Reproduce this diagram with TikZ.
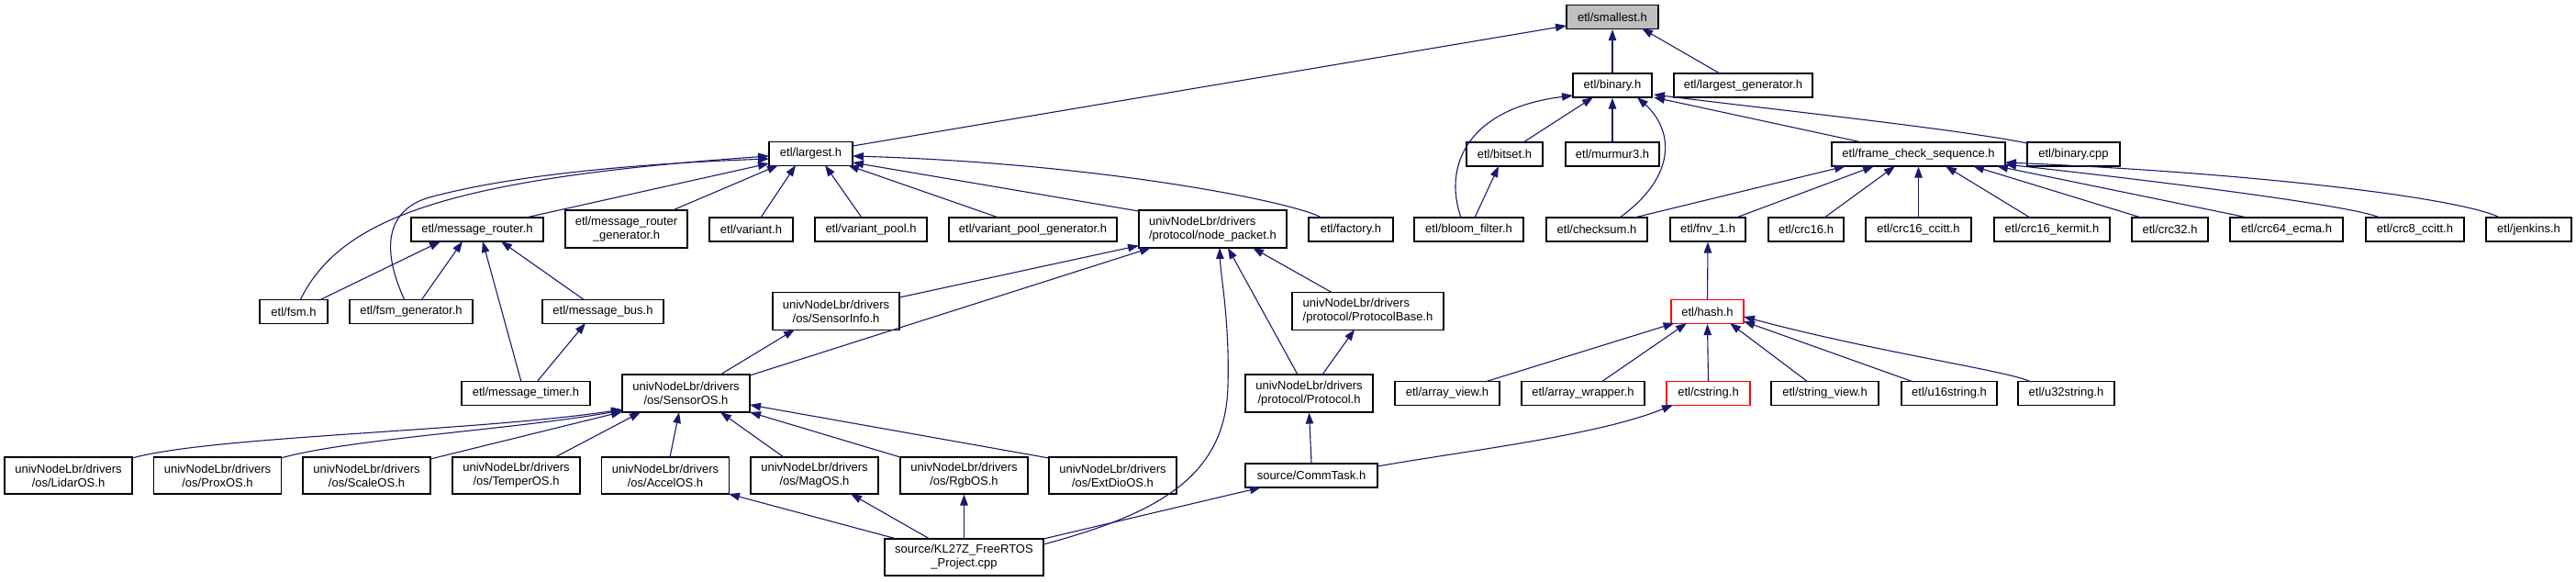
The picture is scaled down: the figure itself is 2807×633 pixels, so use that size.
\documentclass[tikz,border=0pt]{standalone}
\usepackage{fontspec}
\setmainfont{Liberation Sans}
\usetikzlibrary{arrows.meta}
\definecolor{edgeblue}{HTML}{191970}
\definecolor{shadegrey}{HTML}{BFBFBF}
\begin{document}
\begin{tikzpicture}[x=1pt,y=-1pt,
  fbox/.style={draw=black, line width=1.2pt, fill=white, inner sep=0pt, font=\fontsize{13}{15}\selectfont, align=center, minimum height=26pt},
  tall/.style={minimum height=41pt},
  redbox/.style={draw=red},
  dep/.style={draw=edgeblue, line width=1.1pt, -{Triangle[length=12pt,width=8.5pt]}},
]
\useasboundingbox (0,0) rectangle (2807,633);
% row 0-2
\node[fbox, fill=shadegrey, minimum width=100pt] (smallest) at (1757,18.5) {etl/smallest.h};
\node[fbox, minimum width=86pt] (binary) at (1757,93) {etl/binary.h};
\node[fbox, minimum width=151pt] (lgen) at (1899.5,93) {etl/largest\_generator.h};
\node[fbox, minimum width=91pt] (largest) at (883.5,167.5) {etl/largest.h};
\node[fbox, minimum width=83pt] (bitset) at (1639.5,168) {etl/bitset.h};
\node[fbox, minimum width=102pt] (murmur) at (1757,168) {etl/murmur3.h};
\node[fbox, minimum width=189pt] (fcs) at (2090.5,168) {etl/frame\_check\_sequence.h};
\node[fbox, minimum width=101pt] (bincpp) at (2259.5,168) {etl/binary.cpp};
% row 3
\node[fbox, minimum width=144pt] (mrouter) at (520,250) {etl/message\_router.h};
\node[fbox, tall, minimum width=133pt] (mrgen) at (682.5,249.5) {etl/message\_router\\\_generator.h};
\node[fbox, minimum width=91pt] (variant) at (818.5,250) {etl/variant.h};
\node[fbox, minimum width=122pt] (vpool) at (949,250) {etl/variant\_pool.h};
\node[fbox, minimum width=183pt] (vpgen) at (1125.5,250) {etl/variant\_pool\_generator.h};
\node[fbox, tall, align=left, minimum width=161pt] (npacket) at (1321.5,249.5) {univNodeLbr/drivers\\/protocol/node\_packet.h};
\node[fbox, minimum width=92pt] (factory) at (1472,250) {etl/factory.h};
\node[fbox, minimum width=119pt] (bloom) at (1600.5,250) {etl/bloom\_filter.h};
\node[fbox, minimum width=110pt] (checksum) at (1740,250) {etl/checksum.h};
\node[fbox, minimum width=82pt] (fnv) at (1861,250) {etl/fnv\_1.h};
\node[fbox, minimum width=82pt] (crc16) at (1968,250) {etl/crc16.h};
\node[fbox, minimum width=115pt] (crcc) at (2090.5,250) {etl/crc16\_ccitt.h};
\node[fbox, minimum width=126pt] (crck) at (2236,250) {etl/crc16\_kermit.h};
\node[fbox, minimum width=83pt] (crc32) at (2364.5,250) {etl/crc32.h};
\node[fbox, minimum width=123pt] (crc64) at (2491.5,250) {etl/crc64\_ecma.h};
\node[fbox, minimum width=107pt] (crc8) at (2631.5,250) {etl/crc8\_ccitt.h};
\node[fbox, minimum width=93pt] (jenkins) at (2755.5,250) {etl/jenkins.h};
% row 4
\node[fbox, minimum width=74pt] (fsm) at (320,339.5) {etl/fsm.h};
\node[fbox, minimum width=134pt] (fsmgen) at (448,339.5) {etl/fsm\_generator.h};
\node[fbox, minimum width=132pt] (mbus) at (657,339.5) {etl/message\_bus.h};
\node[fbox, tall, minimum width=138pt] (sinfo) at (911,339) {univNodeLbr/drivers\\/os/SensorInfo.h};
\node[fbox, tall, align=left, minimum width=165pt] (pbase) at (1490.5,339) {univNodeLbr/drivers\\/protocol/ProtocolBase.h};
\node[fbox, redbox, minimum width=79pt] (hash) at (1860.5,339.5) {etl/hash.h};
% row 5
\node[fbox, minimum width=140pt] (mtimer) at (573,428.5) {etl/message\_timer.h};
\node[fbox, tall, minimum width=139pt] (sensoros) at (747.5,428.5) {univNodeLbr/drivers\\/os/SensorOS.h};
\node[fbox, tall, minimum width=139pt] (protocol) at (1426.5,428.5) {univNodeLbr/drivers\\/protocol/Protocol.h};
\node[fbox, minimum width=114pt] (aview) at (1577,428.5) {etl/array\_view.h};
\node[fbox, minimum width=134pt] (awrap) at (1725,428.5) {etl/array\_wrapper.h};
\node[fbox, redbox, minimum width=91pt] (cstring) at (1861.5,428.5) {etl/cstring.h};
\node[fbox, minimum width=117pt] (sview) at (1988.5,428.5) {etl/string\_view.h};
\node[fbox, minimum width=104pt] (u16) at (2124,428.5) {etl/u16string.h};
\node[fbox, minimum width=105pt] (u32) at (2251.5,428.5) {etl/u32string.h};
% row 6
\node[fbox, tall, minimum height=40pt, minimum width=139pt] (lidar) at (74.5,518) {univNodeLbr/drivers\\/os/LidarOS.h};
\node[fbox, tall, minimum height=40pt, minimum width=139pt] (prox) at (237,518) {univNodeLbr/drivers\\/os/ProxOS.h};
\node[fbox, tall, minimum height=40pt, minimum width=139pt] (scale) at (399.5,518) {univNodeLbr/drivers\\/os/ScaleOS.h};
\node[fbox, tall, minimum height=40pt, minimum width=139pt] (temper) at (562.5,518) {univNodeLbr/drivers\\/os/TemperOS.h};
\node[fbox, tall, minimum height=40pt, minimum width=139pt] (accel) at (725,518) {univNodeLbr/drivers\\/os/AccelOS.h};
\node[fbox, tall, minimum height=40pt, minimum width=139pt] (mag) at (887.5,518) {univNodeLbr/drivers\\/os/MagOS.h};
\node[fbox, tall, minimum height=40pt, minimum width=139pt] (rgb) at (1050.5,518) {univNodeLbr/drivers\\/os/RgbOS.h};
\node[fbox, tall, minimum height=40pt, minimum width=139pt] (extdio) at (1212.5,518) {univNodeLbr/drivers\\/os/ExtDioOS.h};
\node[fbox, minimum width=144pt] (commtask) at (1429,518) {source/CommTask.h};
% row 7
\node[fbox, tall, minimum height=40pt, minimum width=173pt] (kl27z) at (1050.5,607) {source/KL27Z\_FreeRTOS\\\_Project.cpp};

% ---- edges to smallest / binary
\draw[dep] ([shift={(45.5,-8.5)}]largest.center) -- ([shift={(-50,9.5)}]smallest.center);
\draw[dep] (binary.north) -- (smallest.south);
\draw[dep] ([shift={(-25.5,-13)}]lgen.center) -- ([shift={(32,12.5)}]smallest.center);
\draw[dep] ([shift={(20.5,-13)}]bitset.center) -- ([shift={(-21,13)}]binary.center);
\draw[dep] (murmur.north) -- (binary.south);
\draw[dep] ([shift={(-8.5,-13)}]bloom.center) .. controls (1572,180) and (1600,118) .. ([shift={(-43,11)}]binary.center);
\draw[dep] ([shift={(6.5,-13)}]bloom.center) -- ([shift={(-6.5,13)}]bitset.center);
\draw[dep] ([shift={(25,-13)}]checksum.center) .. controls (1830,190) and (1822,140) .. ([shift={(27,13)}]binary.center);
\draw[dep] ([shift={(41,-13)}]checksum.center) -- ([shift={(-79.5,13)}]fcs.center);
\draw[dep] ([shift={(-61.5,-13)}]fcs.center) -- ([shift={(45,13)}]binary.center);
\draw[dep] ([shift={(-50.5,-12)}]bincpp.center) .. controls (2130,140) and (1920,118) .. ([shift={(45,10)}]binary.center);
% ---- edges to frame_check_sequence
\draw[dep] ([shift={(31,-13)}]fnv.center) -- ([shift={(-48.5,13)}]fcs.center);
\draw[dep] ([shift={(20,-13)}]crc16.center) -- ([shift={(-25.5,13)}]fcs.center);
\draw[dep] (crcc.north) -- (fcs.south);
\draw[dep] ([shift={(-24,-13)}]crck.center) -- ([shift={(29.5,13)}]fcs.center);
\draw[dep] ([shift={(-31.5,-13)}]crc32.center) -- ([shift={(59.5,13)}]fcs.center);
\draw[dep] ([shift={(-42.5,-13)}]crc64.center) -- ([shift={(85.5,13)}]fcs.center);
\draw[dep] ([shift={(-38.5,-13)}]crc8.center) .. controls (2572,227) and (2420,205) .. ([shift={(94.5,11)}]fcs.center);
\draw[dep] ([shift={(-31.5,-13)}]jenkins.center) .. controls (2680,215) and (2450,188) .. ([shift={(94.5,9)}]fcs.center);
% ---- hash
\draw[dep] (hash.north) -- (fnv.south);
\draw[dep] ([shift={(41,-12.5)}]aview.center) -- ([shift={(-36,12.5)}]hash.center);
\draw[dep] ([shift={(20,-12.5)}]awrap.center) -- ([shift={(-22.5,12.5)}]hash.center);
\draw[dep] (cstring.north) -- (hash.south);
\draw[dep] ([shift={(-18.5,-12.5)}]sview.center) -- ([shift={(24.5,12.5)}]hash.center);
\draw[dep] ([shift={(-39,-12.5)}]u16.center) -- ([shift={(39.5,10.5)}]hash.center);
\draw[dep] ([shift={(-38.5,-12.5)}]u32.center) .. controls (2190,404) and (2050,385) .. ([shift={(39.5,5.5)}]hash.center);
% ---- CommTask / protocol
\draw[dep] ([shift={(72,-10)}]commtask.center) .. controls (1590,492) and (1740,475) .. ([shift={(-38.5,12.5)}]cstring.center);
\draw[dep] ([shift={(86.5,-20)}]kl27z.center) -- ([shift={(-55,13)}]commtask.center);
\draw[dep] (commtask.north) -- (protocol.south);
\draw[dep] ([shift={(14.5,-20.5)}]protocol.center) -- ([shift={(-14.5,20)}]pbase.center);
\draw[dep] ([shift={(-12.5,-20.5)}]protocol.center) -- ([shift={(16.5,20.5)}]npacket.center);
\draw[dep] ([shift={(-38.5,-20)}]pbase.center) -- ([shift={(43.5,20.5)}]npacket.center);
\draw[dep] ([shift={(69,-15)}]sinfo.center) -- ([shift={(-80.5,18)}]npacket.center);
\draw[dep] ([shift={(69.5,-19.5)}]sensoros.center) -- ([shift={(-67.5,20.5)}]npacket.center);
\draw[dep] ([shift={(86.5,-14)}]kl27z.center) .. controls (1260,560) and (1336,520) .. (1338,420) .. controls (1340,350) and (1330,300) .. ([shift={(7.5,20.5)}]npacket.center);
% ---- SensorOS
\draw[dep] ([shift={(37.5,-20.5)}]sensoros.center) -- ([shift={(-45,20)}]sinfo.center);
\draw[dep] ([shift={(69.5,-19)}]lidar.center) .. controls (230,475) and (520,470) .. ([shift={(-69.5,17.5)}]sensoros.center);
\draw[dep] ([shift={(69,-19)}]prox.center) .. controls (380,478) and (560,468) .. ([shift={(-69.5,18.5)}]sensoros.center);
\draw[dep] ([shift={(69.5,-18)}]scale.center) -- ([shift={(-69.5,20)}]sensoros.center);
\draw[dep] ([shift={(42.5,-20)}]temper.center) -- ([shift={(-49.5,20.5)}]sensoros.center);
\draw[dep] ([shift={(5,-20)}]accel.center) -- ([shift={(-7.5,20.5)}]sensoros.center);
\draw[dep] ([shift={(-33.5,-20)}]mag.center) -- ([shift={(37.5,20.5)}]sensoros.center);
\draw[dep] ([shift={(-69.5,-20)}]rgb.center) -- ([shift={(69.5,20.5)}]sensoros.center);
\draw[dep] ([shift={(-69.5,-19)}]extdio.center) -- ([shift={(69.5,12.5)}]sensoros.center);
% ---- KL27Z
\draw[dep] ([shift={(-73.5,-20)}]kl27z.center) -- ([shift={(69,20)}]accel.center);
\draw[dep] ([shift={(-37.5,-20)}]kl27z.center) -- ([shift={(39.5,20)}]mag.center);
\draw[dep] (kl27z.north) -- (rgb.south);
% ---- message router
\draw[dep] ([shift={(28,-12.5)}]fsm.center) -- ([shift={(-40,13)}]mrouter.center);
\draw[dep] ([shift={(11,-12.5)}]fsmgen.center) -- ([shift={(-16,13)}]mrouter.center);
\draw[dep] ([shift={(-5,-12.5)}]mtimer.center) -- ([shift={(6,13)}]mrouter.center);
\draw[dep] ([shift={(-20,-12.5)}]mbus.center) -- ([shift={(26,13)}]mrouter.center);
\draw[dep] ([shift={(12,-12.5)}]mtimer.center) -- ([shift={(-19,12.5)}]mbus.center);
% ---- largest
\draw[dep] ([shift={(7,-12.5)}]fsm.center) .. controls (370,240) and (480,195) .. ([shift={(-45.5,2.5)}]largest.center);
\draw[dep] ([shift={(-7,-12.5)}]fsmgen.center) .. controls (418,278) and (416,230) .. (468,215) .. controls (560,190) and (700,178) .. ([shift={(-45.5,5.5)}]largest.center);
\draw[dep] ([shift={(53,-13)}]mrouter.center) -- ([shift={(-45.5,10.5)}]largest.center);
\draw[dep] ([shift={(50.5,-20.5)}]mrgen.center) -- ([shift={(-35.5,12.5)}]largest.center);
\draw[dep] ([shift={(10.5,-13)}]variant.center) -- ([shift={(-16.5,12.5)}]largest.center);
\draw[dep] ([shift={(-10,-13)}]vpool.center) -- ([shift={(15.5,12.5)}]largest.center);
\draw[dep] ([shift={(-37.5,-13)}]vpgen.center) -- ([shift={(40.5,12.5)}]largest.center);
\draw[dep] ([shift={(-80.5,-19.5)}]npacket.center) -- ([shift={(45.5,9.5)}]largest.center);
\draw[dep] ([shift={(-32,-13)}]factory.center) .. controls (1410,220) and (1200,178) .. ([shift={(45.5,2.5)}]largest.center);
\end{tikzpicture}
\end{document}
